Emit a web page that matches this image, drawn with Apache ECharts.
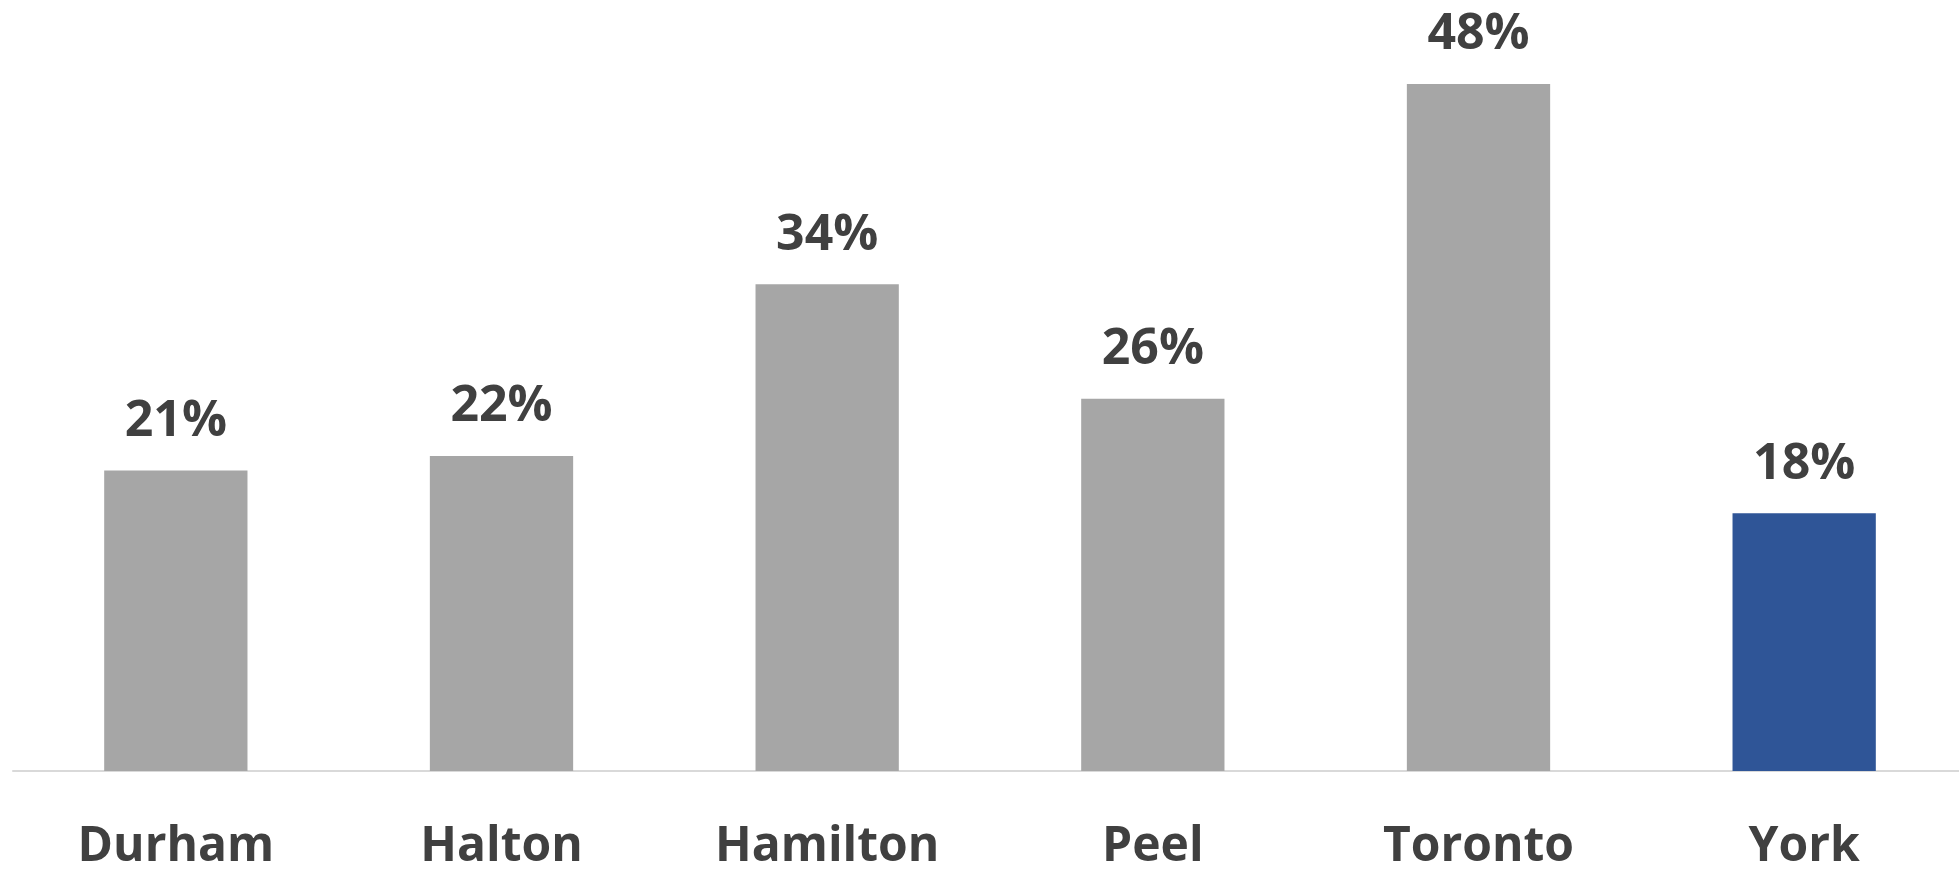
<!DOCTYPE html>
<html>
<head>
<meta charset="utf-8">
<script src="https://cdn.jsdelivr.net/npm/echarts@6/dist/echarts.min.js"></script>
<style>
  html, body { margin: 0; padding: 0; background: #ffffff; overflow: hidden; }
  #chart { width: 1967px; height: 871px; }
</style>
</head>
<body>
<div id="chart"></div>
<script>
// Share by region (percent)
const regions = ['Durham', 'Halton', 'Hamilton', 'Peel', 'Toronto', 'York'];
const shares = [21, 22, 34, 26, 48, 18];
const highlightRegion = 'York';

const greyBar = '#a6a6a6';
const blueBar = '#2f5597';
const textColor = '#404040';
const fontFamily = '"Open Sans", "Noto Sans", sans-serif';

const chart = echarts.init(document.getElementById('chart'));

chart.setOption({
  backgroundColor: '#ffffff',
  animation: false,
  grid: { left: 13, right: 0, top: 55.33, bottom: 99, containLabel: false },
  xAxis: {
    type: 'category',
    data: regions,
    axisLine: { show: true, lineStyle: { color: '#d9d9d9', width: 2 } },
    axisTick: { show: false },
    axisLabel: {
      color: textColor,
      fontFamily: fontFamily,
      fontWeight: 'bold',
      fontSize: 48,
      margin: 52
    }
  },
  yAxis: {
    type: 'value',
    min: 0,
    max: 50,
    show: false,
    splitLine: { show: false }
  },
  series: [{
    type: 'bar',
    barWidth: '44%',
    data: shares.map((v, i) => ({
      value: v,
      itemStyle: { color: regions[i] === highlightRegion ? blueBar : greyBar }
    })),
    label: {
      show: true,
      position: 'top',
      distance: 24,
      color: textColor,
      fontFamily: fontFamily,
      fontWeight: 'bold',
      fontSize: 50,
      formatter: p => p.value + '%'
    }
  }]
});
</script>
</body>
</html>
